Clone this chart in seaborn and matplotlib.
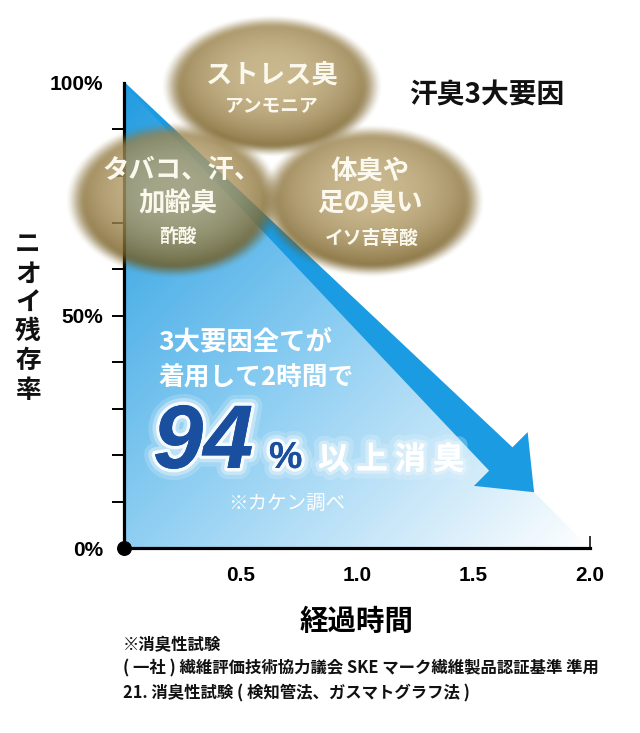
import numpy as np
import matplotlib
matplotlib.use('Agg')
import matplotlib.pyplot as plt
import matplotlib.patheffects as pe
from matplotlib.patches import Polygon
import seaborn as sns

# ---------------- data ----------------
elapsed_hours = [0.0, 2.0]          # 経過時間
residual_pct = [100.0, 0.0]         # ニオイ残存率
arrow_from = (0.0, 100.0)
arrow_to = (1.76, 12.0)
x_ticks = [0.5, 1.0, 1.5, 2.0]
x_tick_labels = ['0.5', '1.0', '1.5', '2.0']
y_label_ticks = [0, 50, 100]
y_tick_labels = ['0%', '50%', '100%']
y_minor_ticks = [10, 20, 30, 40, 50, 60, 70, 80, 90]
factor_names = [['ストレス臭'], ['タバコ、汗、', '加齢臭'], ['体臭や', '足の臭い']]
factor_compounds = ['アンモニア', '酢酸', 'イソ吉草酸']
headline_value = '94'
footnotes = ['※消臭性試験',
             '( 一社 ) 繊維評価技術協力議会 SKE マーク繊維製品認証基準 準用',
             '21. 消臭性試験 ( 検知管法、ガスマトグラフ法 )']

# ---------------- style ----------------
sns.set_theme(style='white')
plt.rcParams['font.family'] = ['Noto Sans CJK JP', 'DejaVu Sans']
plt.rcParams['text.color'] = 'black'
W, H = 640, 733
fig = plt.figure(figsize=(W / 100, H / 100), dpi=100)
fig.patch.set_facecolor('white')

ax = fig.add_axes([124 / W, (H - 548) / H, 466 / W, 465 / H])
ax.set_facecolor('none')
ax.set_xlim(0, 2)
ax.set_ylim(0, 100)

# triangle (residual area) with gradient
sns.lineplot(x=elapsed_hours, y=residual_pct, ax=ax, linewidth=0, color='#1c99e0')
area = ax.fill_between(elapsed_hours, residual_pct, 0, color='none', linewidth=0)
nx, ny = 400, 400
u = np.linspace(0, 1, nx)[None, :]
v = 1 - np.linspace(0, 1, ny)[:, None]
t = np.clip((u + v) / 2, 0, 1)
c0 = np.array([0.13, 0.61, 0.88])
c1 = np.array([0.56, 0.81, 0.95])
c2 = np.array([1.0, 1.0, 1.0])
t3 = t[..., None]
grad = np.where(t3 < 0.5, c0 + (c1 - c0) * (t3 / 0.5), c1 + (c2 - c1) * ((t3 - 0.5) / 0.5))
im = ax.imshow(grad, extent=(0, 2, 0, 100), origin='lower', aspect='auto',
               zorder=1, interpolation='bilinear')
im.set_clip_path(area.get_paths()[0], ax.transData)

# arrow (tapered shaft + head) computed in display space
fig.canvas.draw()
p0 = ax.transData.transform(arrow_from)
tip = ax.transData.transform(arrow_to)
d = (tip - p0) / np.linalg.norm(tip - p0)
n = np.array([-d[1], d[0]])
head_len, head_w, shaft_w, tail_w = 47, 76, 33, 2
base = tip - d * head_len
pts = np.array([p0 + n * tail_w / 2, base + n * shaft_w / 2, base + n * head_w / 2, tip,
                base - n * head_w / 2, base - n * shaft_w / 2, p0 - n * tail_w / 2])
pts_data = ax.transData.inverted().transform(pts)
ax.add_patch(Polygon(pts_data, closed=True, facecolor='#1b9be2', edgecolor='none',
                     zorder=2, clip_on=False))

# axes / ticks
for s in ['top', 'right']:
    ax.spines[s].set_visible(False)
for s in ['left', 'bottom']:
    ax.spines[s].set_linewidth(2.3)
    ax.spines[s].set_color('black')
    ax.spines[s].set_zorder(3)
ax.set_xticks(x_ticks, labels=x_tick_labels, fontsize=15, fontweight='bold',
              family=['Liberation Sans', 'DejaVu Sans'])
ax.set_yticks(y_label_ticks, labels=y_tick_labels, fontsize=15, fontweight='bold',
              family=['Liberation Sans', 'DejaVu Sans'])
ax.set_yticks(y_minor_ticks, minor=True)
ax.yaxis.remove_overlapping_locs = False
ax.tick_params(axis='x', which='major', direction='in', length=9, width=1.1,
               color='black', labelcolor='black', pad=13, bottom=True)
ax.tick_params(axis='y', which='major', length=0, pad=15, left=True, labelcolor='black')
ax.tick_params(axis='y', which='minor', direction='inout', length=17, width=1.4,
               color='black', left=True)
ax.scatter([0], [0], s=95, color='black', zorder=6, clip_on=False)
ax.set_xlabel('経過時間', fontsize=20.5, fontweight='bold', color='black', va='center')
ax.xaxis.set_label_coords(0.5, (548 - 622) / 465)

# ---------------- overlay (pixel coordinates) ----------------
ov = fig.add_axes([0, 0, 1, 1], zorder=3)
ov.set_xlim(0, W)
ov.set_ylim(H, 0)
ov.axis('off')
ov.patch.set_alpha(0)

bubbles = [(272, 86, 104, 67), (174, 200, 102, 74), (372, 201, 106, 72)]
yy, xx = np.mgrid[0:H, 0:W] + 0.5
pm = np.zeros((H, W, 3))
alp = np.zeros((H, W))
light = np.array([0.74, 0.65, 0.45])
dark = np.array([0.44, 0.34, 0.10])
for cx, cy, a, b in bubbles:
    r = np.sqrt(((xx - cx) / a) ** 2 + ((yy - cy) / b) ** 2)
    rh = np.sqrt(((xx - cx) / a) ** 2 + ((yy - (cy - 0.15 * b)) / b) ** 2)
    tt = np.clip(rh / 1.05, 0, 1) ** 2.3
    col = light * (1 - tt[..., None]) + dark * tt[..., None]
    e = np.clip((r - 0.86) / (1.07 - 0.86), 0, 1)
    e = e * e * (3 - 2 * e)
    al = 0.8 * (1 - e)
    pm = col * al[..., None] + pm * (1 - al[..., None])
    alp = al + alp * (1 - al)
rgb = np.where(alp[..., None] > 0, pm / np.maximum(alp[..., None], 1e-6), 1.0)
rgba = np.dstack([np.clip(rgb, 0, 1), alp])
ov.imshow(rgba, extent=(0, W, H, 0), aspect='auto', interpolation='bilinear', zorder=1)

tc = '#fbf8ee'
name_pos = [[(272, 75)], [(182, 171), (178, 203)], [(370, 172), (370, 203)]]
comp_pos = [(272, 107), (178, 237), (372, 238)]
for names, poss, comp, cp in zip(factor_names, name_pos, factor_compounds, comp_pos):
    for nm, (x, y) in zip(names, poss):
        ov.text(x, y, nm, fontsize=19, fontweight='bold', color=tc, ha='center', va='center', zorder=5)
    ov.text(cp[0], cp[1], comp, fontsize=13.5, fontweight='bold', color=tc, ha='center', va='center', zorder=5)

ov.text(487, 95, '汗臭3大要因', fontsize=20, fontweight='bold', color='#111111',
        ha='center', va='center', zorder=5)

# y label stacked vertically
for ch, y in zip('ニオイ残存率', [244, 274, 302, 331, 361, 391]):
    ov.text(28, y, ch, fontsize=18.5, fontweight='bold', color='#111111', ha='center', va='center')

# message
ov.text(158, 342, '3大要因全てが', fontsize=19, fontweight='bold', color='white', ha='left', va='center', zorder=5)
ov.text(158, 377, '着用して2時間で', fontsize=18.5, fontweight='bold', color='white', ha='left', va='center', zorder=5)
glow = [pe.withStroke(linewidth=16, foreground='white', alpha=0.18),
        pe.withStroke(linewidth=10, foreground='white', alpha=0.35),
        pe.withStroke(linewidth=5, foreground='white', alpha=0.85), pe.Normal()]
ov.text(153, 468, headline_value, fontsize=65, fontweight='bold', style='italic', color='#1a4e9f',
        family=['Liberation Sans', 'DejaVu Sans'], ha='left', va='baseline', zorder=5, path_effects=glow)
ov.text(269, 468, '%', fontsize=27, fontweight='bold', color='#1a4e9f',
        family=['Liberation Sans', 'DejaVu Sans'], ha='left', va='baseline', zorder=5, path_effects=glow)
glow2 = [pe.withStroke(linewidth=12, foreground='#dff1fb', alpha=0.3),
         pe.withStroke(linewidth=5, foreground='#eaf6fd', alpha=0.5), pe.Normal()]
ov.text(318, 460, '以 上 消 臭', fontsize=22.5, fontweight='bold', color='white', ha='left', va='center',
        zorder=5, path_effects=glow2)
ov.text(228, 503, '※カケン調べ', fontsize=14, color='white', ha='left', va='center', zorder=5)

for txt, y in zip(footnotes, [645, 668, 693]):
    ov.text(123, y, txt, fontsize=11.8, fontweight='bold', color='#111111', ha='left', va='center')

fig.savefig('out.png', dpi=100, facecolor='white')
